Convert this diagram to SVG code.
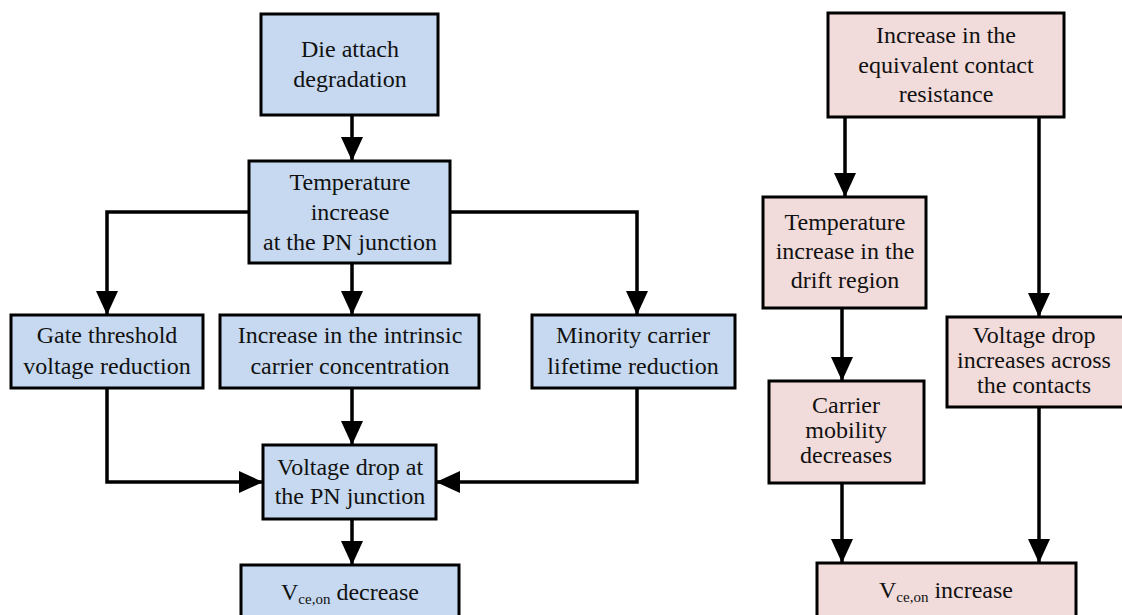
<svg xmlns="http://www.w3.org/2000/svg" width="1122" height="615" viewBox="0 0 1122 615">
<defs>
<marker id="ah" markerUnits="userSpaceOnUse" markerWidth="24" markerHeight="24" viewBox="0 0 24 24" refX="24" refY="12" orient="auto">
<path d="M0,1 L24,12 L0,23 Z" fill="#000"/>
</marker>
<style>
.b{fill:#c6d9f0;stroke:#000;stroke-width:3}
.p{fill:#f2dcdb;stroke:#000;stroke-width:3}
.t{font-family:'Liberation Serif',serif;font-size:24px;fill:#111;text-anchor:middle}
.c{fill:none;stroke:#000;stroke-width:3.5;marker-end:url(#ah)}
</style>
</defs>
<rect width="1122" height="615" fill="#fff"/>
<g id="connectors">
<path class="c" d="M352,115 V161"/>
<path class="c" d="M249,212 H107 V315"/>
<path class="c" d="M352,263 V315"/>
<path class="c" d="M450,212 H637 V315"/>
<path class="c" d="M107,388 V482 H263"/>
<path class="c" d="M352,388 V445"/>
<path class="c" d="M637,388 V482 H436"/>
<path class="c" d="M352,519 V565"/>
<path class="c" d="M845,117 V197"/>
<path class="c" d="M1039,117 V317"/>
<path class="c" d="M842,308 V381"/>
<path class="c" d="M842,483 V563"/>
<path class="c" d="M1039,407 V563"/>
</g>
<g id="die-attach"><rect class="b" x="261" y="14" width="177" height="101"/>
<text class="t" x="350" y="57">Die attach</text><text class="t" x="350" y="87">degradation</text></g>
<g id="temp-pn"><rect class="b" x="249" y="161" width="201" height="102"/>
<text class="t" x="350" y="190">Temperature</text><text class="t" x="350" y="220">increase</text><text class="t" x="350" y="250">at the PN junction</text></g>
<g id="gate"><rect class="b" x="11" y="315" width="192" height="73"/>
<text class="t" x="107" y="343">Gate threshold</text><text class="t" x="107" y="374">voltage reduction</text></g>
<g id="intrinsic"><rect class="b" x="220" y="315" width="259" height="73"/>
<text class="t" x="350" y="343">Increase in the intrinsic</text><text class="t" x="350" y="374">carrier concentration</text></g>
<g id="minority"><rect class="b" x="532" y="315" width="203" height="73"/>
<text class="t" x="633" y="343">Minority carrier</text><text class="t" x="633" y="374">lifetime reduction</text></g>
<g id="vdrop-pn"><rect class="b" x="263" y="445" width="173" height="74"/>
<text class="t" x="350" y="475">Voltage drop at</text><text class="t" x="350" y="504">the PN junction</text></g>
<g id="vce-dec"><rect class="b" x="241" y="565" width="218" height="60"/>
<text class="t" x="350" y="600">V<tspan font-size="15" dy="4">ce,on</tspan><tspan dy="-4"> decrease</tspan></text></g>
<g id="contact-res"><rect class="p" x="828" y="13" width="236" height="104"/>
<text class="t" x="946" y="43">Increase in the</text><text class="t" x="946" y="73">equivalent contact</text><text class="t" x="946" y="102">resistance</text></g>
<g id="temp-drift"><rect class="p" x="763" y="197" width="163" height="111"/>
<text class="t" x="845" y="230">Temperature</text><text class="t" x="845" y="259">increase in the</text><text class="t" x="845" y="288">drift region</text></g>
<g id="mobility"><rect class="p" x="769" y="381" width="155" height="102"/>
<text class="t" x="846" y="413">Carrier</text><text class="t" x="846" y="438">mobility</text><text class="t" x="846" y="463">decreases</text></g>
<g id="vdrop-contacts"><rect class="p" x="947" y="317" width="178" height="90"/>
<text class="t" x="1034" y="343" font-size="25">Voltage drop</text><text class="t" x="1034" y="368" font-size="25">increases across</text><text class="t" x="1034" y="393" font-size="25">the contacts</text></g>
<g id="vce-inc"><rect class="p" x="817" y="563" width="259" height="62"/>
<text class="t" x="946" y="598">V<tspan font-size="15" dy="4">ce,on</tspan><tspan dy="-4"> increase</tspan></text></g>
</svg>
